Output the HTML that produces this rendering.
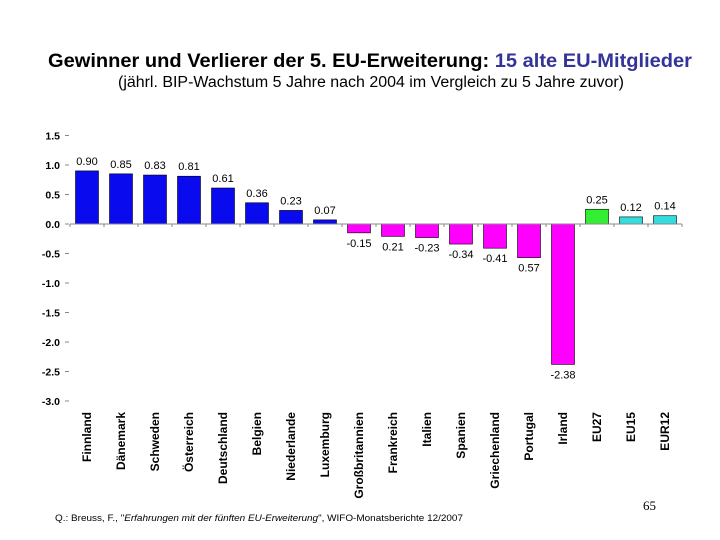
<!DOCTYPE html>
<html><head><meta charset="utf-8"><style>
body{margin:0;background:#fff;}
svg{display:block;font-family:"Liberation Sans",sans-serif;}
</style></head><body>
<svg id="c" width="720" height="540">
<text x="370" y="67" text-anchor="middle" font-size="19.5" font-weight="bold" textLength="644" lengthAdjust="spacingAndGlyphs">Gewinner und Verlierer der 5. EU-Erweiterung: <tspan fill="#333399">15 alte EU-Mitglieder</tspan></text>
<text x="371" y="87" text-anchor="middle" font-size="15.5" textLength="506" lengthAdjust="spacingAndGlyphs">(jährl. BIP-Wachstum 5 Jahre nach 2004 im Vergleich zu 5 Jahre zuvor)</text>
<text x="55" y="521" font-size="9.5" textLength="408" lengthAdjust="spacingAndGlyphs">Q.: Breuss, F., "<tspan font-style="italic">Erfahrungen mit der fünften EU-Erweiterung</tspan>", WIFO-Monatsberichte 12/2007</text>
<text x="643" y="510" font-size="13" font-family="Liberation Serif, serif">65</text>
<g id="plot"></g>
</svg>
<script>
const categories=["Finnland","Dänemark","Schweden","Österreich","Deutschland","Belgien","Niederlande","Luxemburg","Großbritannien","Frankreich","Italien","Spanien","Griechenland","Portugal","Irland","EU27","EU15","EUR12"];
const values=[0.90,0.85,0.83,0.81,0.61,0.36,0.23,0.07,-0.15,-0.21,-0.23,-0.34,-0.41,-0.57,-2.38,0.25,0.12,0.14];
const valueLabels=["0.90","0.85","0.83","0.81","0.61","0.36","0.23","0.07","-0.15","0.21","-0.23","-0.34","-0.41","0.57","-2.38","0.25","0.12","0.14"];
const barColors=["#0a0aee","#0a0aee","#0a0aee","#0a0aee","#0a0aee","#0a0aee","#0a0aee","#0a0aee","#ff00ff","#ff00ff","#ff00ff","#ff00ff","#ff00ff","#ff00ff","#ff00ff","#33ee33","#33dddd","#33dddd"];
const yTicks=[1.5,1.0,0.5,0.0,-0.5,-1.0,-1.5,-2.0,-2.5,-3.0];
const NS="http://www.w3.org/2000/svg";
const g=document.getElementById('plot');
const x0=70,x1=682,n=categories.length,step=(x1-x0)/n,bw=23;
const y=v=>224-59*v;
const xc=i=>x0+step*(i+0.5);
function mk(t,a){const e=document.createElementNS(NS,t);for(const k in a)e.setAttribute(k,a[k]);g.appendChild(e);return e;}
yTicks.forEach(t=>{
 const e=mk('text',{x:60,y:y(t)+4,'text-anchor':'end','font-size':10.5,'font-weight':'bold'});
 e.textContent=t.toFixed(1);
 
 
 const l=mk('line',{x1:65,x2:69,y1:y(t),y2:y(t),stroke:'#888','stroke-width':1});
 
 
});
values.forEach((v,i)=>{
 const top=Math.min(y(v),y(0)),h=Math.abs(y(v)-y(0));
 const r=mk('rect',{x:xc(i)-bw/2,y:top,width:bw,height:h,fill:barColors[i],stroke:'#000','stroke-width':0.6});
 
 
 const ly=v>=0?y(v)-6:y(v)+14;
 const t=mk('text',{x:xc(i),y:ly,'text-anchor':'middle','font-size':11});
 t.textContent=valueLabels[i];
 
 
 const c=mk('text',{transform:`translate(${xc(i)+4},412) rotate(-90)`,'text-anchor':'end','font-size':12,'font-weight':'bold'});
 c.textContent=categories[i];
 
 
});
const z=mk('line',{x1:x0,x2:x1,y1:y(0),y2:y(0),stroke:'#888','stroke-width':1});


for(let i=0;i<=n;i++){
 const tk=mk('line',{x1:x0+step*i,x2:x0+step*i,y1:y(0),y2:y(0)+3,stroke:'#888','stroke-width':1});
 
 
}
</script>
</body></html>
